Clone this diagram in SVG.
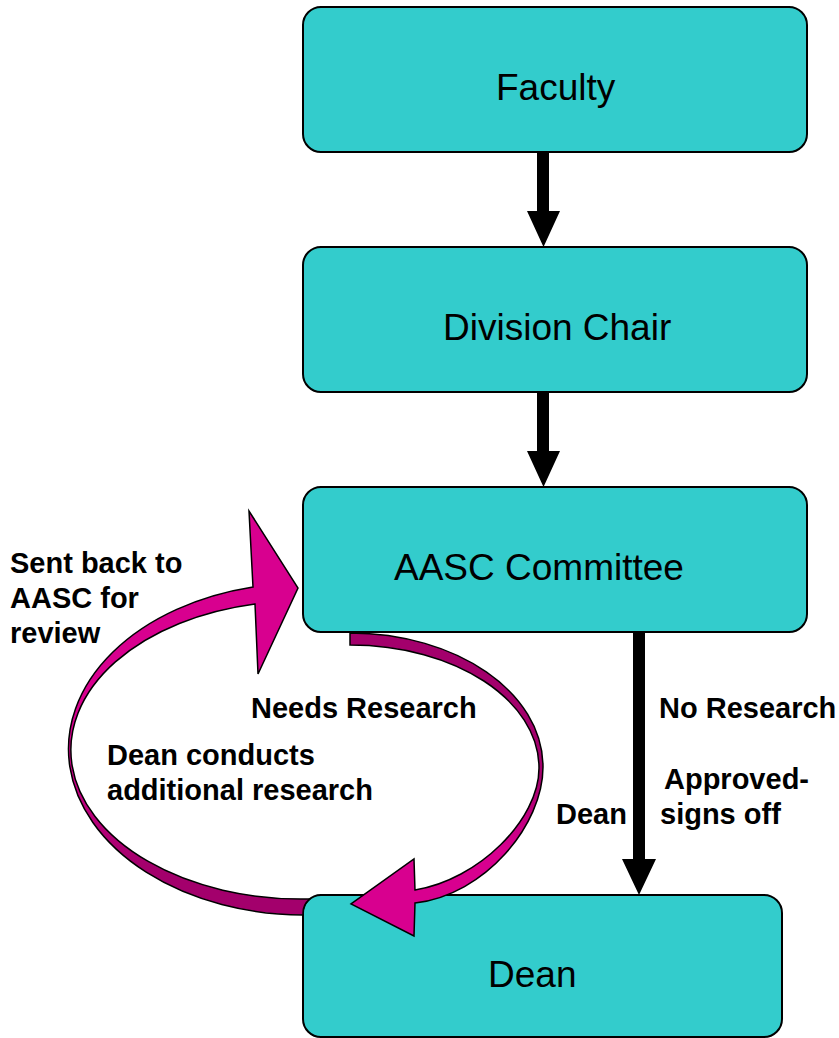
<svg xmlns="http://www.w3.org/2000/svg" width="839" height="1038" viewBox="0 0 839 1038">
  <style>
    .box { fill: #33CCCC; stroke: #000; stroke-width: 2; }
    .title { font-family: "Liberation Sans", Arial, sans-serif; font-size: 37px; fill: #000; }
    .lbl { font-family: "Liberation Sans", Arial, sans-serif; font-size: 29px; font-weight: bold; fill: #000; }
    .blk { fill: #000; stroke: none; }
    .mag { stroke: #000; stroke-width: 1.5; stroke-linejoin: miter; }
  </style>
  <defs>
    <linearGradient id="gLeft" gradientUnits="userSpaceOnUse" x1="0" y1="511" x2="0" y2="915">
      <stop offset="0" stop-color="#D8008F"/>
      <stop offset="0.58" stop-color="#D8008F"/>
      <stop offset="0.88" stop-color="#A3006C"/>
      <stop offset="1" stop-color="#A3006C"/>
    </linearGradient>
    <linearGradient id="gRight" gradientUnits="userSpaceOnUse" x1="0" y1="632" x2="0" y2="936">
      <stop offset="0" stop-color="#A3006C"/>
      <stop offset="0.48" stop-color="#A3006C"/>
      <stop offset="0.72" stop-color="#D8008F"/>
      <stop offset="1" stop-color="#D8008F"/>
    </linearGradient>
  </defs>
  <rect width="839" height="1038" fill="#fff"/>

  <g id="node-faculty">
    <rect class="box" x="303" y="7" width="504" height="145" rx="18" ry="18"/>
    <text class="title" x="496" y="100">Faculty</text>
  </g>
  <g id="node-division">
    <rect class="box" x="303" y="247" width="504" height="145" rx="18" ry="18"/>
    <text class="title" x="443" y="340">Division Chair</text>
  </g>
  <g id="node-aasc">
    <rect class="box" x="303" y="487" width="504" height="145" rx="18" ry="18"/>
    <text class="title" x="394" y="580">AASC Committee</text>
  </g>
  <g id="node-dean">
    <rect class="box" x="303" y="895" width="479" height="142" rx="18" ry="18"/>
    <text class="title" x="488" y="987">Dean</text>
  </g>

  <g id="connectors">
    <!-- Sent back to AASC (curved, left) -->
    <path id="c-sentback" class="mag" fill="url(#gLeft)" d="M 255 604 A 230 149 0 0 0 303 899 L 309.7 899 A 18 18 0 0 0 303 913 L 303 915 A 236 166 0 0 1 253 587 L 249 511 L 298 588 L 258 674 Z"/>
    <!-- Needs Research (curved, right) -->
    <path id="c-needs" class="mag" fill="url(#gRight)" d="M 350 633 C 456 633 543 692 543 767 C 543 825 485 895 415 903 L 414 936 L 351 904 L 414 859 L 415 890 C 478 880 539 820 539 768 C 539 700 455 645 350 645 Z"/>
    <!-- straight black arrows -->
    <polygon id="c-fac-div" class="blk" points="537,152 549,152 549,211 560,211 543.5,247 527,211 537,211"/>
    <polygon id="c-div-aasc" class="blk" points="537,392 549,392 549,451 560,451 543.5,487 527,451 537,451"/>
    <polygon id="c-aasc-dean" class="blk" points="633,632 645,632 645,859 656,859 639,895 622,859 633,859"/>
  </g>

  <g id="labels">
    <text class="lbl" x="10" y="573">Sent back to</text>
    <text class="lbl" x="10" y="608">AASC for</text>
    <text class="lbl" x="10" y="643">review</text>
    <text class="lbl" x="251" y="718">Needs Research</text>
    <text class="lbl" x="107" y="765">Dean conducts</text>
    <text class="lbl" x="107" y="800">additional research</text>
    <text class="lbl" x="659" y="718">No Research</text>
    <text class="lbl" x="664" y="789">Approved-</text>
    <text class="lbl" x="660" y="824">signs off</text>
    <text class="lbl" x="556" y="824">Dean</text>
  </g>
</svg>
